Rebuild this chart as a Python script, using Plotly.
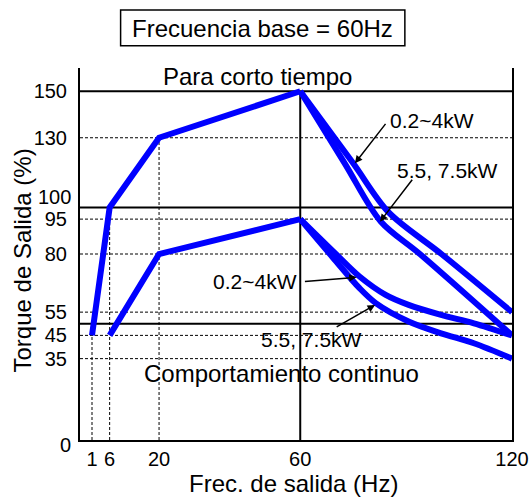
import plotly.graph_objects as go

# Short-time (overload) torque limit, common rising part
short_rise_hz = [1, 6, 20, 60]
short_rise_pct = [45, 100, 130, 150]

# Short-time limit above base frequency, per inverter size
short_small_hz = [60, 75, 85, 100, 120]          # 0.2~4kW
short_small_pct = [150, 119, 98, 80, 55]
short_large_hz = [60, 72.6, 82.8, 93.9, 120]     # 5.5, 7.5kW
short_large_pct = [150, 119, 94, 80, 45]

# Continuous torque limit, common rising part
cont_rise_hz = [6, 20, 60]
cont_rise_pct = [45, 80, 95]

# Continuous limit above base frequency, per inverter size
cont_small_hz = [60, 70.3, 76.8, 84.2, 90.7, 99.9, 109.2, 120]   # 0.2~4kW
cont_small_pct = [95, 79.7, 70.3, 62.4, 58.1, 53.8, 50.2, 45]
cont_large_hz = [60, 69.4, 76.8, 81.4, 90.7, 99.9, 109.2, 120]   # 5.5, 7.5kW
cont_large_pct = [95, 78.2, 65.3, 58.9, 51, 45.9, 41.6, 35]

x_ticks = [1, 6, 20, 60, 120]
y_ticks = [35, 45, 55, 80, 95, 130, 150]
y_ticks_offset = ["0", "100"]      # drawn apart so they do not collide
solid_levels = [150, 100, 50]
dashed_levels = [130, 95, 80, 55, 45, 35]
dotted_verticals = [(1, 45), (6, 100), (20, 130)]

X_MIN, X_MAX = -2.4, 120
Y_MAX = 160
BLUE = "#0000ff"
FONT = "Liberation Sans, Arial, sans-serif"
TICK_SIZE = 20
TEXT_SIZE = 24

fig = go.Figure()

line_style = dict(color=BLUE, width=6)
fig.add_trace(go.Scatter(x=short_rise_hz, y=short_rise_pct, mode="lines",
                         line=line_style))
fig.add_trace(go.Scatter(x=cont_rise_hz, y=cont_rise_pct, mode="lines",
                         line=line_style))
for xs, ys in [(short_small_hz, short_small_pct),
               (short_large_hz, short_large_pct),
               (cont_small_hz, cont_small_pct),
               (cont_large_hz, cont_large_pct)]:
    fig.add_trace(go.Scatter(x=xs, y=ys, mode="lines",
                             line=dict(color=BLUE, width=6, shape="spline",
                                       smoothing=0.9)))

shapes = []
for lv in solid_levels:
    shapes.append(dict(type="line", xref="x", yref="y", x0=X_MIN, x1=X_MAX,
                       y0=lv, y1=lv, line=dict(color="black", width=2),
                       layer="below"))
for lv in dashed_levels:
    shapes.append(dict(type="line", xref="x", yref="y", x0=X_MIN, x1=X_MAX,
                       y0=lv, y1=lv,
                       line=dict(color="black", width=1, dash="3px,2px"),
                       layer="below"))
for xv, top in dotted_verticals:
    shapes.append(dict(type="line", xref="x", yref="y", x0=xv, x1=xv,
                       y0=0, y1=top,
                       line=dict(color="black", width=1, dash="3px,2px"),
                       layer="below"))
shapes.append(dict(type="line", xref="x", yref="y", x0=60, x1=60, y0=0,
                   y1=150, line=dict(color="black", width=2), layer="below"))
# frame around the heading
shapes.append(dict(type="rect", xref="paper", yref="paper",
                   x0=0.094, x1=0.752, y0=1.060, y1=1.156,
                   line=dict(color="black", width=1.5)))

ann = []
ann.append(dict(xref="paper", yref="paper", x=0.4236, y=1.1075,
                text="Frecuencia base = 60Hz", showarrow=False,
                font=dict(size=TEXT_SIZE), xanchor="center",
                yanchor="middle"))
ann.append(dict(x=48.0, y=156.3, text="Para corto tiempo", showarrow=False,
                font=dict(size=TEXT_SIZE), xanchor="center",
                yanchor="middle"))
ann.append(dict(x=54.7, y=28.4, text="Comportamiento continuo",
                showarrow=False, font=dict(size=TEXT_SIZE), xanchor="center",
                yanchor="middle"))

labels = [
    ("0.2~4kW", 97.3, 137.6, (75.5, 119.0), (84.5, 136.6)),
    ("5.5, 7.5kW", 101.7, 116.1, (82.6, 93.9), (92.05, 112.6)),
    ("0.2~4kW", 47.2, 68.1, (76.0, 70.0), (60.9, 68.1)),
    ("5.5, 7.5kW", 63.1, 43.4, (81.2, 58.1), (69.9, 48.3)),
]
for text, lx, ly, tip, tail in labels:
    ann.append(dict(x=lx, y=ly, text=text, showarrow=False,
                    font=dict(size=21), xanchor="center", yanchor="middle"))
    ann.append(dict(x=tip[0], y=tip[1], ax=tail[0], ay=tail[1],
                    axref="x", ayref="y", text="", showarrow=True,
                    arrowhead=2, arrowsize=1, arrowwidth=1.5,
                    arrowcolor="black", standoff=0))

# the "0" and "100" tick labels, nudged off their lines
for txt, py in zip(y_ticks_offset, [-0.0134, 0.652]):
    ann.append(dict(xref="paper", yref="paper", x=-0.0185, y=py, text=txt,
                    showarrow=False, font=dict(size=TICK_SIZE),
                    xanchor="right", yanchor="middle", borderpad=0))

# axis titles
ann.append(dict(xref="paper", yref="paper", x=-0.132, y=0.4825,
                text="Torque de Salida (%)", textangle=-90, showarrow=False,
                font=dict(size=TEXT_SIZE), xanchor="center",
                yanchor="middle"))
ann.append(dict(xref="paper", yref="paper", x=0.495, y=-0.1156,
                text="Frec. de salida (Hz)", showarrow=False,
                font=dict(size=TEXT_SIZE), xanchor="center",
                yanchor="middle"))

fig.update_layout(
    template="none",
    width=531, height=498,
    margin=dict(l=80, r=19, t=68, b=58, pad=0),
    paper_bgcolor="white", plot_bgcolor="white",
    showlegend=False,
    font=dict(family=FONT, color="black"),
    shapes=shapes, annotations=ann,
    xaxis=dict(range=[X_MIN, X_MAX], tickvals=x_ticks,
               ticktext=[str(v) for v in x_ticks], showgrid=False,
               zeroline=False, showline=True, linecolor="black", linewidth=2,
               mirror=False, ticks="", ticklabelstandoff=0, automargin=False,
               tickfont=dict(size=TICK_SIZE)),
    yaxis=dict(range=[0, Y_MAX], tickvals=y_ticks,
               ticktext=[str(v) for v in y_ticks], showgrid=False,
               zeroline=False, showline=True, linecolor="black", linewidth=2,
               mirror=True, ticks="", ticklabelstandoff=7, automargin=False,
               tickfont=dict(size=TICK_SIZE)),
)

fig.write_html("out.html")
